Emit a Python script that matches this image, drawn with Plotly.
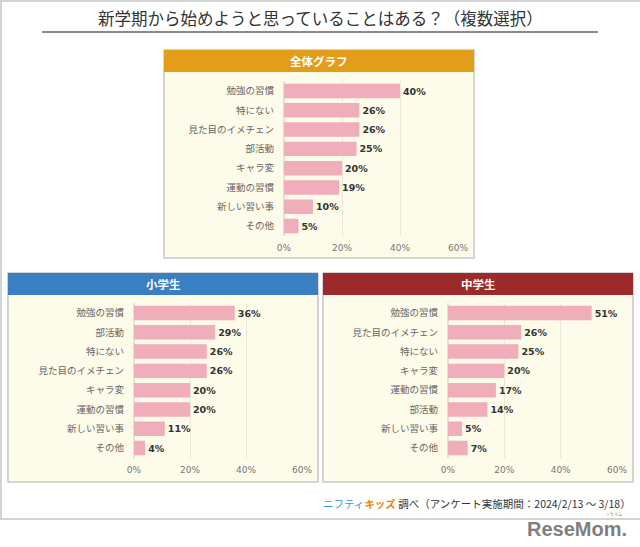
import plotly.graph_objects as go

W, H = 640, 547

title = "新学期から始めようと思っていることはある？（複数選択）"

cats_all = ["勉強の習慣", "特にない", "見た目のイメチェン", "部活動", "キャラ変", "運動の習慣", "新しい習い事", "その他"]
vals_all = [40, 26, 26, 25, 20, 19, 10, 5]

cats_elem = ["勉強の習慣", "部活動", "特にない", "見た目のイメチェン", "キャラ変", "運動の習慣", "新しい習い事", "その他"]
vals_elem = [36, 29, 26, 26, 20, 20, 11, 4]

cats_jh = ["勉強の習慣", "見た目のイメチェン", "特にない", "キャラ変", "運動の習慣", "部活動", "新しい習い事", "その他"]
vals_jh = [51, 26, 25, 20, 17, 14, 5, 7]

panel_titles = ["全体グラフ", "小学生", "中学生"]
x_ticks = [0, 20, 40, 60]
x_ticklabels = ["0%", "20%", "40%", "60%"]

BAR = "#F0ADBA"
CREAM = "#FDFBEA"
HEAD = ["#E29D19", "#3A7FC2", "#9C2A2A"]
JP = "Noto Sans CJK JP"
NUM = "DejaVu Sans"

def px(x):
    return x / W

def py(y):
    return 1 - y / H

fig = go.Figure()

panels = [
    dict(box=(164, 474, 50, 258, 72), ax=(284, 458), yc=(91, 226)),
    dict(box=(8, 318, 273, 482, 295), ax=(134, 302), yc=(313, 448)),
    dict(box=(323, 633, 273, 482, 295), ax=(448, 617), yc=(313, 448)),
]
datasets = [(cats_all, vals_all), (cats_elem, vals_elem), (cats_jh, vals_jh)]

shapes = []
annotations = []

# outer frame
shapes.append(dict(type="rect", xref="paper", yref="paper", x0=px(1), x1=px(646), y0=py(1), y1=py(519),
                   line=dict(color="#D3D3D3", width=2), fillcolor="rgba(0,0,0,0)", layer="below"))
# title underline
shapes.append(dict(type="line", xref="paper", yref="paper", x0=px(42), x1=px(598), y0=py(32), y1=py(32),
                   line=dict(color="#8A8A8A", width=2)))
annotations.append(dict(text=title, xref="paper", yref="paper", x=px(320), y=py(18), showarrow=False,
                        font=dict(family=JP, size=16.5, color="#333333"), xanchor="center", yanchor="middle"))

for i, (p, (cats, vals)) in enumerate(zip(panels, datasets)):
    x0, x1, y0, y1, hb = p["box"]
    shapes.append(dict(type="rect", xref="paper", yref="paper", x0=px(x0), x1=px(x1), y0=py(y0), y1=py(y1),
                       line=dict(color="#C8C8C8", width=1.5), fillcolor=CREAM, layer="below"))
    shapes.append(dict(type="rect", xref="paper", yref="paper", x0=px(x0), x1=px(x1), y0=py(y0), y1=py(hb),
                       line=dict(width=0), fillcolor=HEAD[i], layer="below"))
    annotations.append(dict(text="<b>" + panel_titles[i] + "</b>", xref="paper", yref="paper",
                            x=px((x0 + x1) / 2), y=py((y0 + hb) / 2), showarrow=False,
                            font=dict(family=JP, size=11.5, color="white"), xanchor="center", yanchor="middle"))
    a0, a1 = p["ax"]
    c0, c1 = p["yc"]
    s = (c1 - c0) / 7
    xa = "x" if i == 0 else f"x{i+1}"
    ya = "y" if i == 0 else f"y{i+1}"
    fig.add_trace(go.Bar(
        x=vals, y=cats, orientation="h", marker=dict(color=BAR, line=dict(width=0)),
        width=0.75, text=[f"{v}%" for v in vals], textposition="outside",
        textfont=dict(family=NUM, size=9.5, color="#333333", weight="bold"),
        cliponaxis=False, xaxis=xa, yaxis=ya, hoverinfo="skip", showlegend=False))
    xkey = "xaxis" if i == 0 else f"xaxis{i+1}"
    ykey = "yaxis" if i == 0 else f"yaxis{i+1}"
    fig.layout[xkey] = dict(domain=[px(a0), px(a1)], range=[0, 60], anchor=ya,
                            tickvals=x_ticks, ticktext=x_ticklabels,
                            tickfont=dict(family=NUM, size=9, color="#777777"),
                            ticks="outside", ticklen=4, tickcolor="rgba(0,0,0,0)",
                            showgrid=True, gridcolor="#ECE8D6", gridwidth=1,
                            zeroline=True, zerolinecolor="#E6E2CF", showline=False, fixedrange=True,
                            automargin=False)
    fig.layout[ykey] = dict(domain=[py(c1 + s / 2), py(c0 - s / 2)], anchor=xa, autorange="reversed",
                            type="category", tickfont=dict(family=JP, size=9.5, color="#666666"),
                            ticklabelstandoff=9, showgrid=False, zeroline=False, showline=False,
                            fixedrange=True, automargin=False)

# footer
annotations.append(dict(
    text="<span style='color:#2A9ED8'>ニフティ</span><b><span style='color:#F08300'>キッズ</span></b>"
         "<span style='color:#333333'> 調べ（アンケート実施期間：2024/2/13 ～ 3/18）</span>",
    xref="paper", yref="paper", x=px(633), y=py(503), showarrow=False,
    font=dict(family=JP, size=10.5), xanchor="right", yanchor="middle"))
annotations.append(dict(text="<b>ReseMom.</b>", xref="paper", yref="paper", x=px(629), y=py(529),
                        showarrow=False,
                        font=dict(family="Liberation Sans", size=20, color="#7F7F7F"),
                        xanchor="right", yanchor="middle"))
annotations.append(dict(text="リセマム", xref="paper", yref="paper", x=px(614), y=py(514),
                        showarrow=False, font=dict(family=JP, size=4, color="#7F7F7F"),
                        xanchor="center", yanchor="middle"))

fig.update_layout(width=W, height=H, autosize=False, margin=dict(l=0, r=0, t=0, b=0, pad=0),
                  paper_bgcolor="white", plot_bgcolor="rgba(0,0,0,0)",
                  shapes=shapes, annotations=annotations, bargap=0.25)

fig.write_html("out.html", config={"displayModeBar": False, "responsive": False},
               post_script="document.body.style.margin='0';document.body.style.overflow='hidden';")
